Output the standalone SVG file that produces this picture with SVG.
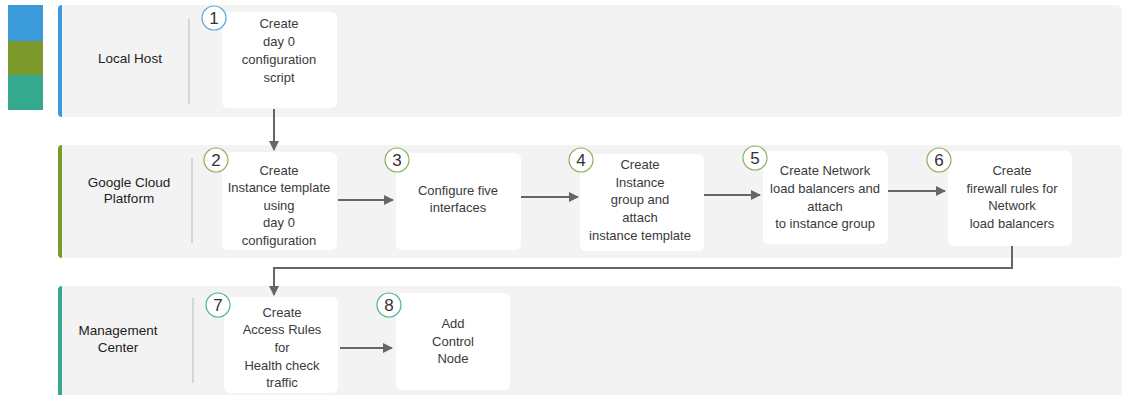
<svg xmlns="http://www.w3.org/2000/svg" width="1130" height="395" viewBox="0 0 1130 395">
<defs>
<style>
.lane{fill:#f3f3f3}
.div{stroke:#cccccc;stroke-width:1.5}
.node{fill:#ffffff}
.t{font-family:"Liberation Sans",Arial,sans-serif;font-size:13px;fill:#3a3a3a;text-anchor:middle}
.lbl{font-family:"Liberation Sans",Arial,sans-serif;font-size:13.5px;fill:#222222;text-anchor:middle}
.num{font-family:"Liberation Sans",Arial,sans-serif;font-size:17px;fill:#333333;text-anchor:middle}
.c1{fill:#ffffff;stroke:#5aa6dc;stroke-width:1.2}
.c2{fill:#ffffff;stroke:#8fb060;stroke-width:1.2}
.c3{fill:#ffffff;stroke:#4fb39a;stroke-width:1.2}
.conn{fill:none;stroke:#666666;stroke-width:2}
</style>
<marker id="ah" viewBox="0 0 10 10" refX="9" refY="5" markerWidth="5" markerHeight="5" orient="auto" markerUnits="strokeWidth">
<path d="M0,0 L10,5 L0,10 z" fill="#666666"/>
</marker>
</defs>
<g id="legend">
<rect x="8" y="5" width="35" height="36" fill="#3b9ad9"/>
<rect x="8" y="41" width="35" height="34" fill="#7b9a2b"/>
<rect x="8" y="75" width="35" height="35" fill="#35a98d"/>
</g>
<g id="lane-local-host">
<rect class="lane" x="58" y="5" width="1064" height="112" rx="6"/>
<path d="M62,5 A4,4 0 0 0 58,9 L58,113 A4,4 0 0 0 62,117 Z" fill="#3b9ad9"/>
<rect x="58" y="8" width="3" height="106" fill="#3b9ad9"/>
<line class="div" x1="189" y1="19" x2="189" y2="104"/>
<text class="lbl" x="130" y="63">Local Host</text>
</g>
<g id="lane-gcp">
<rect class="lane" x="58" y="145" width="1064" height="113" rx="6"/>
<path d="M62,145 A4,4 0 0 0 58,149 L58,254 A4,4 0 0 0 62,258 Z" fill="#7b9a2b"/>
<rect x="58" y="148" width="3" height="107" fill="#7b9a2b"/>
<line class="div" x1="192" y1="158" x2="192" y2="243"/>
<text class="lbl" x="129" y="187">Google Cloud</text>
<text class="lbl" x="129" y="203">Platform</text>
</g>
<g id="lane-mc">
<rect class="lane" x="58" y="286" width="1064" height="115" rx="6"/>
<path d="M62,286 A4,4 0 0 0 58,290 L58,395 L62,395 Z" fill="#35a98d"/>
<rect x="58" y="289" width="3" height="106" fill="#35a98d"/>
<line class="div" x1="193" y1="298" x2="193" y2="383"/>
<text class="lbl" x="118" y="335">Management</text>
<text class="lbl" x="118" y="352">Center</text>
</g>
<g id="connectors">
<line class="conn" x1="274" y1="109" x2="274" y2="150" marker-end="url(#ah)"/>
<line class="conn" x1="338" y1="200" x2="393" y2="200" marker-end="url(#ah)"/>
<line class="conn" x1="521" y1="197" x2="578" y2="197" marker-end="url(#ah)"/>
<line class="conn" x1="704" y1="195" x2="760" y2="195" marker-end="url(#ah)"/>
<line class="conn" x1="888" y1="191" x2="945" y2="191" marker-end="url(#ah)"/>
<polyline class="conn" points="1012,246 1012,268 274,268 274,295" marker-end="url(#ah)"/>
<line class="conn" x1="340" y1="348" x2="392" y2="348" marker-end="url(#ah)"/>
</g>
<g id="node1">
<rect class="node" x="222" y="12" width="115" height="96" rx="6"/>
<text class="t" x="279" y="28">Create</text>
<text class="t" x="279" y="46">day 0</text>
<text class="t" x="279" y="64">configuration</text>
<text class="t" x="279" y="82">script</text>
<circle class="c1" cx="214" cy="18" r="12"/>
<text class="num" x="214" y="24">1</text>
</g>
<g id="node2">
<rect class="node" x="222" y="152" width="115" height="98" rx="6"/>
<text class="t" x="279" y="175">Create</text>
<text class="t" x="279" y="192">Instance template</text>
<text class="t" x="279" y="210">using</text>
<text class="t" x="279" y="227">day 0</text>
<text class="t" x="279" y="245">configuration</text>
<circle class="c2" cx="216" cy="160" r="12"/>
<text class="num" x="216" y="166">2</text>
</g>
<g id="node3">
<rect class="node" x="396" y="153" width="125" height="97" rx="6"/>
<text class="t" x="458" y="195">Configure five</text>
<text class="t" x="458" y="212">interfaces</text>
<circle class="c2" cx="397" cy="160" r="12"/>
<text class="num" x="397" y="166">3</text>
</g>
<g id="node4">
<rect class="node" x="580" y="154" width="124" height="97" rx="6"/>
<text class="t" x="640" y="169">Create</text>
<text class="t" x="640" y="187">Instance</text>
<text class="t" x="640" y="204">group and</text>
<text class="t" x="640" y="222">attach</text>
<text class="t" x="640" y="240">instance template</text>
<circle class="c2" cx="581" cy="160" r="12"/>
<text class="num" x="581" y="166">4</text>
</g>
<g id="node5">
<rect class="node" x="763" y="151" width="125" height="93" rx="6"/>
<text class="t" x="825" y="175">Create Network</text>
<text class="t" x="825" y="193">load balancers and</text>
<text class="t" x="825" y="211">attach</text>
<text class="t" x="825" y="228">to instance group</text>
<circle class="c2" cx="755" cy="158" r="12"/>
<text class="num" x="755" y="164">5</text>
</g>
<g id="node6">
<rect class="node" x="948" y="151" width="124" height="95" rx="6"/>
<text class="t" x="1012" y="175">Create</text>
<text class="t" x="1012" y="193">firewall rules for</text>
<text class="t" x="1012" y="210">Network</text>
<text class="t" x="1012" y="228">load balancers</text>
<circle class="c2" cx="939" cy="160" r="12"/>
<text class="num" x="939" y="166">6</text>
</g>
<g id="node7">
<rect class="node" x="224" y="297" width="114" height="96" rx="6"/>
<text class="t" x="282" y="317">Create</text>
<text class="t" x="282" y="334">Access Rules</text>
<text class="t" x="282" y="352">for</text>
<text class="t" x="282" y="370">Health check</text>
<text class="t" x="282" y="387">traffic</text>
<circle class="c3" cx="218" cy="305" r="12"/>
<text class="num" x="218" y="311">7</text>
</g>
<g id="node8">
<rect class="node" x="396" y="293" width="114" height="97" rx="6"/>
<text class="t" x="453" y="328">Add</text>
<text class="t" x="453" y="346">Control</text>
<text class="t" x="453" y="363">Node</text>
<circle class="c3" cx="389" cy="305" r="12"/>
<text class="num" x="389" y="311">8</text>
</g>
</svg>
